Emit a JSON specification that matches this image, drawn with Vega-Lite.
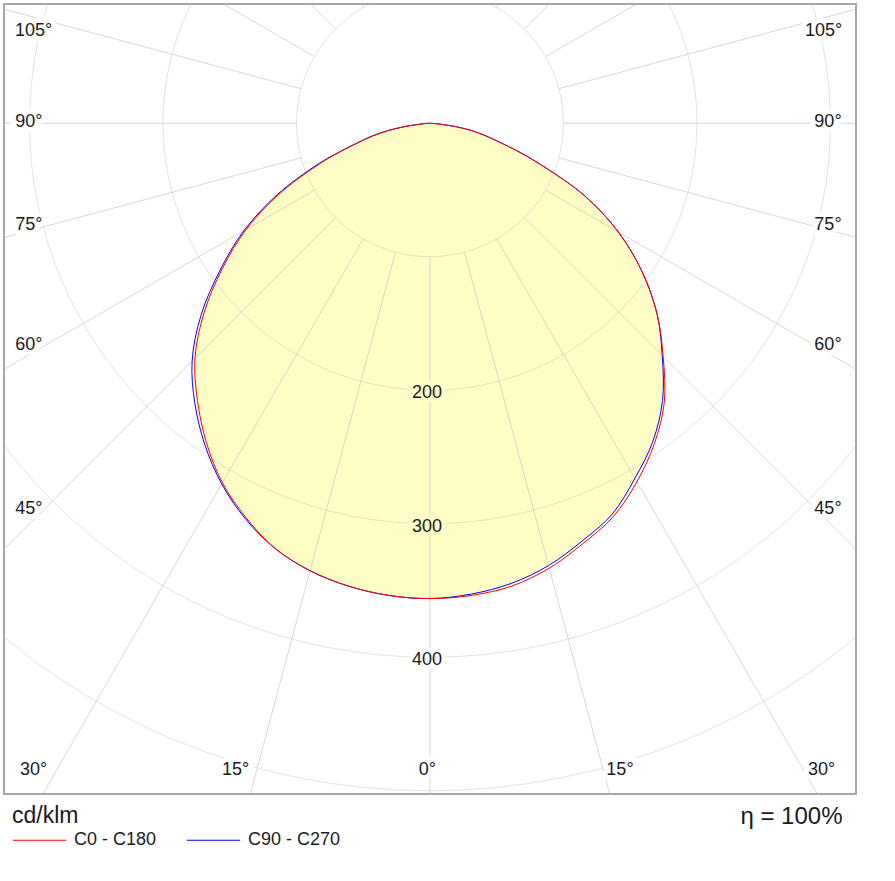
{
  "$schema": "https://vega.github.io/schema/vega-lite/v6.json",
  "width": 852,
  "height": 790,
  "padding": {"left": 4, "top": 4, "right": 39, "bottom": 87},
  "autosize": {"type": "none"},
  "config": {
    "view": {"stroke": "#a6a6a6", "strokeWidth": 2},
    "font": "Liberation Sans"
  },
  "datasets": {
    "curves": [
      {"plane": "C90 - C270", "g": -90, "r": 0},
      {"plane": "C90 - C270", "g": -87.5, "r": 3},
      {"plane": "C90 - C270", "g": -85, "r": 8},
      {"plane": "C90 - C270", "g": -82.5, "r": 20},
      {"plane": "C90 - C270", "g": -80, "r": 33},
      {"plane": "C90 - C270", "g": -77.5, "r": 45},
      {"plane": "C90 - C270", "g": -75, "r": 56},
      {"plane": "C90 - C270", "g": -72.5, "r": 71},
      {"plane": "C90 - C270", "g": -70, "r": 89},
      {"plane": "C90 - C270", "g": -65, "r": 126},
      {"plane": "C90 - C270", "g": -60, "r": 161},
      {"plane": "C90 - C270", "g": -55, "r": 192},
      {"plane": "C90 - C270", "g": -50, "r": 224},
      {"plane": "C90 - C270", "g": -45, "r": 252},
      {"plane": "C90 - C270", "g": -40, "r": 274},
      {"plane": "C90 - C270", "g": -35, "r": 294},
      {"plane": "C90 - C270", "g": -30, "r": 312},
      {"plane": "C90 - C270", "g": -25, "r": 327},
      {"plane": "C90 - C270", "g": -20, "r": 339},
      {"plane": "C90 - C270", "g": -15, "r": 347},
      {"plane": "C90 - C270", "g": -10, "r": 352},
      {"plane": "C90 - C270", "g": -5, "r": 355},
      {"plane": "C90 - C270", "g": 0, "r": 356},
      {"plane": "C90 - C270", "g": 5, "r": 354},
      {"plane": "C90 - C270", "g": 10, "r": 350},
      {"plane": "C90 - C270", "g": 15, "r": 343},
      {"plane": "C90 - C270", "g": 20, "r": 333},
      {"plane": "C90 - C270", "g": 25, "r": 323},
      {"plane": "C90 - C270", "g": 30, "r": 307},
      {"plane": "C90 - C270", "g": 35, "r": 291},
      {"plane": "C90 - C270", "g": 40, "r": 271},
      {"plane": "C90 - C270", "g": 45, "r": 246},
      {"plane": "C90 - C270", "g": 50, "r": 222},
      {"plane": "C90 - C270", "g": 55, "r": 194},
      {"plane": "C90 - C270", "g": 60, "r": 163},
      {"plane": "C90 - C270", "g": 65, "r": 127},
      {"plane": "C90 - C270", "g": 70, "r": 85},
      {"plane": "C90 - C270", "g": 72.5, "r": 68},
      {"plane": "C90 - C270", "g": 75, "r": 53},
      {"plane": "C90 - C270", "g": 77.5, "r": 42},
      {"plane": "C90 - C270", "g": 80, "r": 32},
      {"plane": "C90 - C270", "g": 82.5, "r": 20},
      {"plane": "C90 - C270", "g": 85, "r": 8},
      {"plane": "C90 - C270", "g": 87.5, "r": 3},
      {"plane": "C90 - C270", "g": 90, "r": 0},
      {"plane": "C0 - C180", "g": -90, "r": 0},
      {"plane": "C0 - C180", "g": -87.5, "r": 3},
      {"plane": "C0 - C180", "g": -85, "r": 8},
      {"plane": "C0 - C180", "g": -82.5, "r": 19},
      {"plane": "C0 - C180", "g": -80, "r": 32},
      {"plane": "C0 - C180", "g": -77.5, "r": 44},
      {"plane": "C0 - C180", "g": -75, "r": 55},
      {"plane": "C0 - C180", "g": -72.5, "r": 70},
      {"plane": "C0 - C180", "g": -70, "r": 87},
      {"plane": "C0 - C180", "g": -65, "r": 124},
      {"plane": "C0 - C180", "g": -60, "r": 159},
      {"plane": "C0 - C180", "g": -55, "r": 190},
      {"plane": "C0 - C180", "g": -50, "r": 221},
      {"plane": "C0 - C180", "g": -45, "r": 249},
      {"plane": "C0 - C180", "g": -40, "r": 271},
      {"plane": "C0 - C180", "g": -35, "r": 292},
      {"plane": "C0 - C180", "g": -30, "r": 311},
      {"plane": "C0 - C180", "g": -25, "r": 326},
      {"plane": "C0 - C180", "g": -20, "r": 339},
      {"plane": "C0 - C180", "g": -15, "r": 347},
      {"plane": "C0 - C180", "g": -10, "r": 352},
      {"plane": "C0 - C180", "g": -5, "r": 355},
      {"plane": "C0 - C180", "g": 0, "r": 356},
      {"plane": "C0 - C180", "g": 5, "r": 355},
      {"plane": "C0 - C180", "g": 10, "r": 352},
      {"plane": "C0 - C180", "g": 15, "r": 345},
      {"plane": "C0 - C180", "g": 20, "r": 335},
      {"plane": "C0 - C180", "g": 25, "r": 325},
      {"plane": "C0 - C180", "g": 30, "r": 310},
      {"plane": "C0 - C180", "g": 35, "r": 293},
      {"plane": "C0 - C180", "g": 40, "r": 273},
      {"plane": "C0 - C180", "g": 45, "r": 247},
      {"plane": "C0 - C180", "g": 50, "r": 222},
      {"plane": "C0 - C180", "g": 55, "r": 194},
      {"plane": "C0 - C180", "g": 60, "r": 163},
      {"plane": "C0 - C180", "g": 65, "r": 127},
      {"plane": "C0 - C180", "g": 70, "r": 85},
      {"plane": "C0 - C180", "g": 72.5, "r": 68},
      {"plane": "C0 - C180", "g": 75, "r": 53},
      {"plane": "C0 - C180", "g": 77.5, "r": 42},
      {"plane": "C0 - C180", "g": 80, "r": 32},
      {"plane": "C0 - C180", "g": 82.5, "r": 20},
      {"plane": "C0 - C180", "g": 85, "r": 8},
      {"plane": "C0 - C180", "g": 87.5, "r": 3},
      {"plane": "C0 - C180", "g": 90, "r": 0}
    ],
    "circles": [
      {"r": 100}, {"r": 200}, {"r": 300}, {"r": 400}, {"r": 500}, {"r": 600}
    ],
    "rays": [
      {"a": 0}, {"a": 15}, {"a": 30}, {"a": 45}, {"a": 60}, {"a": 75},
      {"a": 90}, {"a": 105}, {"a": 120}, {"a": 135}, {"a": 150}, {"a": 165},
      {"a": 180}, {"a": 195}, {"a": 210}, {"a": 225}, {"a": 240}, {"a": 255},
      {"a": 270}, {"a": 285}, {"a": 300}, {"a": 315}, {"a": 330}, {"a": 345}
    ],
    "angleLabels": [
      {"t": "105°", "x": -297.0, "y": 69.1},
      {"t": "90°", "x": -300.5, "y": 1.0},
      {"t": "75°", "x": -300.5, "y": -76.2},
      {"t": "60°", "x": -300.5, "y": -166.1},
      {"t": "45°", "x": -300.5, "y": -288.9},
      {"t": "105°", "x": 294.8, "y": 69.1},
      {"t": "90°", "x": 298.1, "y": 1.0},
      {"t": "75°", "x": 298.1, "y": -76.2},
      {"t": "60°", "x": 298.1, "y": -166.1},
      {"t": "45°", "x": 298.1, "y": -288.9},
      {"t": "30°", "x": -297.0, "y": -484.4},
      {"t": "15°", "x": -145.7, "y": -484.4},
      {"t": "0°", "x": -1.9, "y": -484.4},
      {"t": "15°", "x": 142.3, "y": -484.4},
      {"t": "30°", "x": 293.3, "y": -484.4}
    ],
    "valueLabels": [{"v": 200}, {"v": 300}, {"v": 400}]
  },
  "layer": [
    {
      "data": {"name": "curves"},
      "transform": [
        {"aggregate": [{"op": "min", "field": "r", "as": "r"}], "groupby": ["g"]},
        {"calculate": "datum.r*sin(datum.g*PI/180)", "as": "x"},
        {"calculate": "-datum.r*cos(datum.g*PI/180)", "as": "y"}
      ],
      "mark": {"type": "line", "interpolate": "catmull-rom", "fill": "#fffdc6", "stroke": "#fffdc6", "strokeWidth": 1},
      "encoding": {
        "x": {"field": "x", "type": "quantitative", "scale": {"domain": [-319.101, 319.101], "nice": false, "zero": false},
              "axis": {"title": "η = 100%", "domain": false, "ticks": false, "labels": false, "grid": false, "titleFontSize": 24, "titleFontWeight": "normal", "titleColor": "#1a1a1a", "titleFont": "Liberation Sans", "titleAlign": "right", "titleAnchor": "end", "titleX": 838, "titleY": 29, "titleBaseline": "alphabetic"}},
        "y": {"field": "y", "type": "quantitative", "scale": {"domain": [-502.397, 89.363], "nice": false, "zero": false}, "axis": null},
        "order": {"field": "g", "type": "quantitative"}
      }
    },
    {
      "data": {"name": "circles"},
      "mark": {"type": "point", "shape": "circle", "filled": false, "stroke": "#bdbdbd", "strokeOpacity": 0.6, "strokeWidth": 1, "clip": true},
      "encoding": {
        "x": {"datum": 0, "type": "quantitative", "scale": {"domain": [-319.101, 319.101], "nice": false, "zero": false},
              "axis": {"title": "η = 100%", "domain": false, "ticks": false, "labels": false, "grid": false, "titleFontSize": 24, "titleFontWeight": "normal", "titleColor": "#1a1a1a", "titleFont": "Liberation Sans", "titleAlign": "right", "titleAnchor": "end", "titleX": 838, "titleY": 29, "titleBaseline": "alphabetic"}},
        "y": {"datum": 0, "type": "quantitative", "scale": {"domain": [-502.397, 89.363], "nice": false, "zero": false}, "axis": null},
        "size": {"field": "r", "type": "quantitative", "scale": {"type": "pow", "exponent": 2, "domain": [0, 600], "range": [0, 2566404], "zero": true, "nice": false}, "legend": null}
      }
    },
    {
      "data": {"name": "rays"},
      "transform": [
        {"calculate": "100*sin(datum.a*PI/180)", "as": "x"},
        {"calculate": "-100*cos(datum.a*PI/180)", "as": "y"},
        {"calculate": "1000*sin(datum.a*PI/180)", "as": "x2"},
        {"calculate": "-1000*cos(datum.a*PI/180)", "as": "y2"}
      ],
      "mark": {"type": "rule", "stroke": "#bdbdbd", "strokeOpacity": 0.6, "strokeWidth": 1, "clip": true},
      "encoding": {
        "x": {"field": "x", "type": "quantitative", "scale": {"domain": [-319.101, 319.101], "nice": false, "zero": false},
              "axis": {"title": "η = 100%", "domain": false, "ticks": false, "labels": false, "grid": false, "titleFontSize": 24, "titleFontWeight": "normal", "titleColor": "#1a1a1a", "titleFont": "Liberation Sans", "titleAlign": "right", "titleAnchor": "end", "titleX": 838, "titleY": 29, "titleBaseline": "alphabetic"}},
        "y": {"field": "y", "type": "quantitative", "scale": {"domain": [-502.397, 89.363], "nice": false, "zero": false}, "axis": null},
        "x2": {"field": "x2"},
        "y2": {"field": "y2"}
      }
    },
    {
      "data": {"name": "curves"},
      "transform": [
        {"calculate": "datum.r*sin(datum.g*PI/180)", "as": "x"},
        {"calculate": "-datum.r*cos(datum.g*PI/180)", "as": "y"}
      ],
      "mark": {"type": "line", "interpolate": "catmull-rom", "strokeWidth": 1},
      "encoding": {
        "x": {"field": "x", "type": "quantitative", "scale": {"domain": [-319.101, 319.101], "nice": false, "zero": false},
              "axis": {"title": "η = 100%", "domain": false, "ticks": false, "labels": false, "grid": false, "titleFontSize": 24, "titleFontWeight": "normal", "titleColor": "#1a1a1a", "titleFont": "Liberation Sans", "titleAlign": "right", "titleAnchor": "end", "titleX": 838, "titleY": 29, "titleBaseline": "alphabetic"}},
        "y": {"field": "y", "type": "quantitative", "scale": {"domain": [-502.397, 89.363], "nice": false, "zero": false}, "axis": null},
        "order": {"field": "g", "type": "quantitative"},
        "color": {
          "field": "plane", "type": "nominal",
          "scale": {"domain": ["C0 - C180", "C90 - C270"], "range": ["#ff0000", "#0000ff"]},
          "legend": {
            "title": "cd/klm", "orient": "none", "legendX": 8, "legendY": 801, "direction": "horizontal",
            "titleFontSize": 23, "titleFontWeight": "normal", "titleColor": "#1a1a1a", "titleFont": "Liberation Sans", "titlePadding": -15.5,
            "labelFontSize": 18, "labelColor": "#1a1a1a", "labelFont": "Liberation Sans", "labelOffset": 7,
            "symbolType": "stroke", "symbolSize": 2844, "symbolStrokeWidth": 1, "columnPadding": 27, "padding": 0
          }
        }
      }
    },
    {
      "data": {"name": "valueLabels"},
      "transform": [{"calculate": "-datum.v", "as": "y"}],
      "mark": {"type": "text", "fontSize": 18, "font": "Liberation Sans", "dx": -3, "dy": 3, "strokeWidth": 9, "strokeJoin": "round"},
      "encoding": {
        "x": {"datum": 0, "type": "quantitative", "scale": {"domain": [-319.101, 319.101], "nice": false, "zero": false},
              "axis": {"title": "η = 100%", "domain": false, "ticks": false, "labels": false, "grid": false, "titleFontSize": 24, "titleFontWeight": "normal", "titleColor": "#1a1a1a", "titleFont": "Liberation Sans", "titleAlign": "right", "titleAnchor": "end", "titleX": 838, "titleY": 29, "titleBaseline": "alphabetic"}},
        "y": {"field": "y", "type": "quantitative", "scale": {"domain": [-502.397, 89.363], "nice": false, "zero": false}, "axis": null},
        "text": {"field": "v", "type": "nominal"},
        "fill": {"condition": {"test": "datum.v < 350", "value": "#fffdc6"}, "value": "#ffffff"},
        "stroke": {"condition": {"test": "datum.v < 350", "value": "#fffdc6"}, "value": "#ffffff"}
      }
    },
    {
      "data": {"name": "valueLabels"},
      "transform": [{"calculate": "-datum.v", "as": "y"}],
      "mark": {"type": "text", "fontSize": 18, "font": "Liberation Sans", "dx": -3, "dy": 3, "color": "#1a1a1a"},
      "encoding": {
        "x": {"datum": 0, "type": "quantitative", "scale": {"domain": [-319.101, 319.101], "nice": false, "zero": false},
              "axis": {"title": "η = 100%", "domain": false, "ticks": false, "labels": false, "grid": false, "titleFontSize": 24, "titleFontWeight": "normal", "titleColor": "#1a1a1a", "titleFont": "Liberation Sans", "titleAlign": "right", "titleAnchor": "end", "titleX": 838, "titleY": 29, "titleBaseline": "alphabetic"}},
        "y": {"field": "y", "type": "quantitative", "scale": {"domain": [-502.397, 89.363], "nice": false, "zero": false}, "axis": null},
        "text": {"field": "v", "type": "nominal"}
      }
    },
    {
      "data": {"name": "angleLabels"},
      "mark": {"type": "text", "fontSize": 18, "font": "Liberation Sans", "fill": "#ffffff", "stroke": "#ffffff", "strokeWidth": 10, "strokeJoin": "round"},
      "encoding": {
        "x": {"field": "x", "type": "quantitative", "scale": {"domain": [-319.101, 319.101], "nice": false, "zero": false},
              "axis": {"title": "η = 100%", "domain": false, "ticks": false, "labels": false, "grid": false, "titleFontSize": 24, "titleFontWeight": "normal", "titleColor": "#1a1a1a", "titleFont": "Liberation Sans", "titleAlign": "right", "titleAnchor": "end", "titleX": 838, "titleY": 29, "titleBaseline": "alphabetic"}},
        "y": {"field": "y", "type": "quantitative", "scale": {"domain": [-502.397, 89.363], "nice": false, "zero": false}, "axis": null},
        "text": {"field": "t", "type": "nominal"}
      }
    },
    {
      "data": {"name": "angleLabels"},
      "mark": {"type": "text", "fontSize": 18, "font": "Liberation Sans", "color": "#1a1a1a"},
      "encoding": {
        "x": {"field": "x", "type": "quantitative", "scale": {"domain": [-319.101, 319.101], "nice": false, "zero": false},
              "axis": {"title": "η = 100%", "domain": false, "ticks": false, "labels": false, "grid": false, "titleFontSize": 24, "titleFontWeight": "normal", "titleColor": "#1a1a1a", "titleFont": "Liberation Sans", "titleAlign": "right", "titleAnchor": "end", "titleX": 838, "titleY": 29, "titleBaseline": "alphabetic"}},
        "y": {"field": "y", "type": "quantitative", "scale": {"domain": [-502.397, 89.363], "nice": false, "zero": false}, "axis": null},
        "text": {"field": "t", "type": "nominal"}
      }
    }
  ]
}
